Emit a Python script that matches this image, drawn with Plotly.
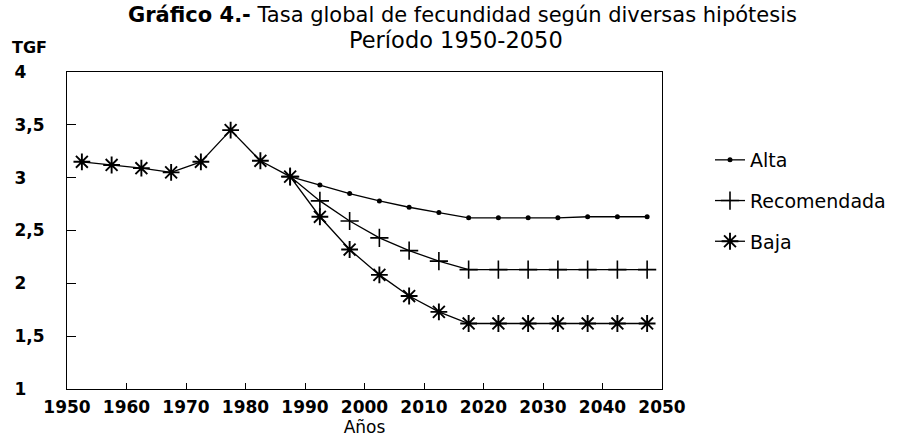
import plotly.graph_objects as go

years = [1952.5, 1957.5, 1962.5, 1967.5, 1972.5, 1977.5, 1982.5, 1987.5, 1992.5, 1997.5,
         2002.5, 2007.5, 2012.5, 2017.5, 2022.5, 2027.5, 2032.5, 2037.5, 2042.5, 2047.5]
baja = [3.15, 3.12, 3.09, 3.05, 3.15, 3.45, 3.16, 3.01, 2.63, 2.32,
        2.08, 1.88, 1.73, 1.62, 1.62, 1.62, 1.62, 1.62, 1.62, 1.62]
recomendada = [None, None, None, None, None, None, None, 3.01, 2.78, 2.59,
               2.43, 2.31, 2.21, 2.13, 2.13, 2.13, 2.13, 2.13, 2.13, 2.13]
alta = [None, None, None, None, None, None, None, 3.01, 2.93, 2.85,
        2.78, 2.72, 2.67, 2.62, 2.62, 2.62, 2.62, 2.63, 2.63, 2.63]

x_ticks = [1950, 1960, 1970, 1980, 1990, 2000, 2010, 2020, 2030, 2040, 2050]
y_ticks = [1, 1.5, 2, 2.5, 3, 3.5, 4]
y_ticklabels = ["1", "1,5", "2", "2,5", "3", "3,5", "4"]

title_line1_bold = "Gráfico 4.-"
title_line1 = "Tasa global de fecundidad según diversas hipótesis"
title_line2 = "Período 1950-2050"
y_title = "TGF"
x_title = "Años"

FONT = "DejaVu Sans"
W, H = 906, 437
L, R, T, B = 67, 244, 72, 48
PW, PH = W - L - R, H - T - B


def px_x(x):
    return (x - L) / PW


def px_y(y):
    return 1 + (T - y) / PH


# left-align the y tick labels by padding the integer ones to the width of "d,d"
y_text = [t if "," in t else t + "\u2008\u2007" for t in y_ticklabels]

fig = go.Figure()
fig.add_trace(go.Scatter(
    x=years, y=alta, name="Alta", mode="lines+markers", legendgroup="a",
    line=dict(color="black", width=1.3),
    marker=dict(symbol="circle", size=5, color="black"),
))
fig.add_trace(go.Scatter(
    x=years, y=recomendada, name="Recomendada", mode="lines+markers", legendgroup="r",
    line=dict(color="black", width=1.3),
    marker=dict(symbol="cross-thin", size=13, color="black", line=dict(color="black", width=1.6)),
))
fig.add_trace(go.Scatter(
    x=years, y=baja, name="Baja", mode="lines+markers", legendgroup="b",
    line=dict(color="black", width=1.3),
    marker=dict(symbol="asterisk-open", size=14, color="black", line=dict(color="black", width=1.9)),
))

fig.update_layout(
    width=W, height=H,
    margin=dict(l=L, r=R, t=T, b=B, autoexpand=False),
    paper_bgcolor="white", plot_bgcolor="white",
    font=dict(family=FONT, color="black"),
    legend=dict(
        x=px_x(710), xanchor="left", y=px_y(141), yanchor="top",
        font=dict(family=FONT, size=19, color="black"),
        tracegroupgap=13, itemwidth=30, bgcolor="rgba(0,0,0,0)",
    ),
    showlegend=True,
)
fig.update_xaxes(
    range=[1950, 2050], tickvals=x_ticks, ticktext=[str(v) for v in x_ticks],
    showgrid=False, zeroline=False, automargin=False,
    ticks="inside", ticklen=6, tickcolor="black", tickwidth=1,
    showline=True, linecolor="black", linewidth=1, mirror=True,
    title=dict(text=x_title, font=dict(family=FONT, size=17), standoff=4),
    tickfont=dict(family=FONT, size=17, weight="bold"),
    ticklabelstandoff=3,
)
fig.update_yaxes(
    range=[1, 4], tickvals=y_ticks, ticktext=y_text, showgrid=False, zeroline=False,
    automargin=False,
    ticks="inside", ticklen=9, tickcolor="black", tickwidth=1,
    showline=True, linecolor="black", linewidth=1, mirror=True,
    tickfont=dict(family=FONT, size=17, weight="bold"),
    ticklabelstandoff=18,
)
fig.add_annotation(
    text=f"<b>{title_line1_bold}</b> {title_line1}", xref="paper", yref="paper",
    x=px_x(462), y=px_y(15), xanchor="center", yanchor="middle", showarrow=False,
    font=dict(family=FONT, size=21, color="black"),
)
fig.add_annotation(
    text=title_line2, xref="paper", yref="paper",
    x=px_x(456), y=px_y(40), xanchor="center", yanchor="middle", showarrow=False,
    font=dict(family=FONT, size=22.5, color="black"),
)
fig.add_annotation(
    text=f"<b>{y_title}</b>", xref="paper", yref="paper",
    x=px_x(10), y=px_y(47), xanchor="left", yanchor="middle", showarrow=False,
    font=dict(family=FONT, size=16, color="black"),
)

fig.write_html("out.html", config={"displayModeBar": False},
               post_script="document.body.style.margin='0';")
